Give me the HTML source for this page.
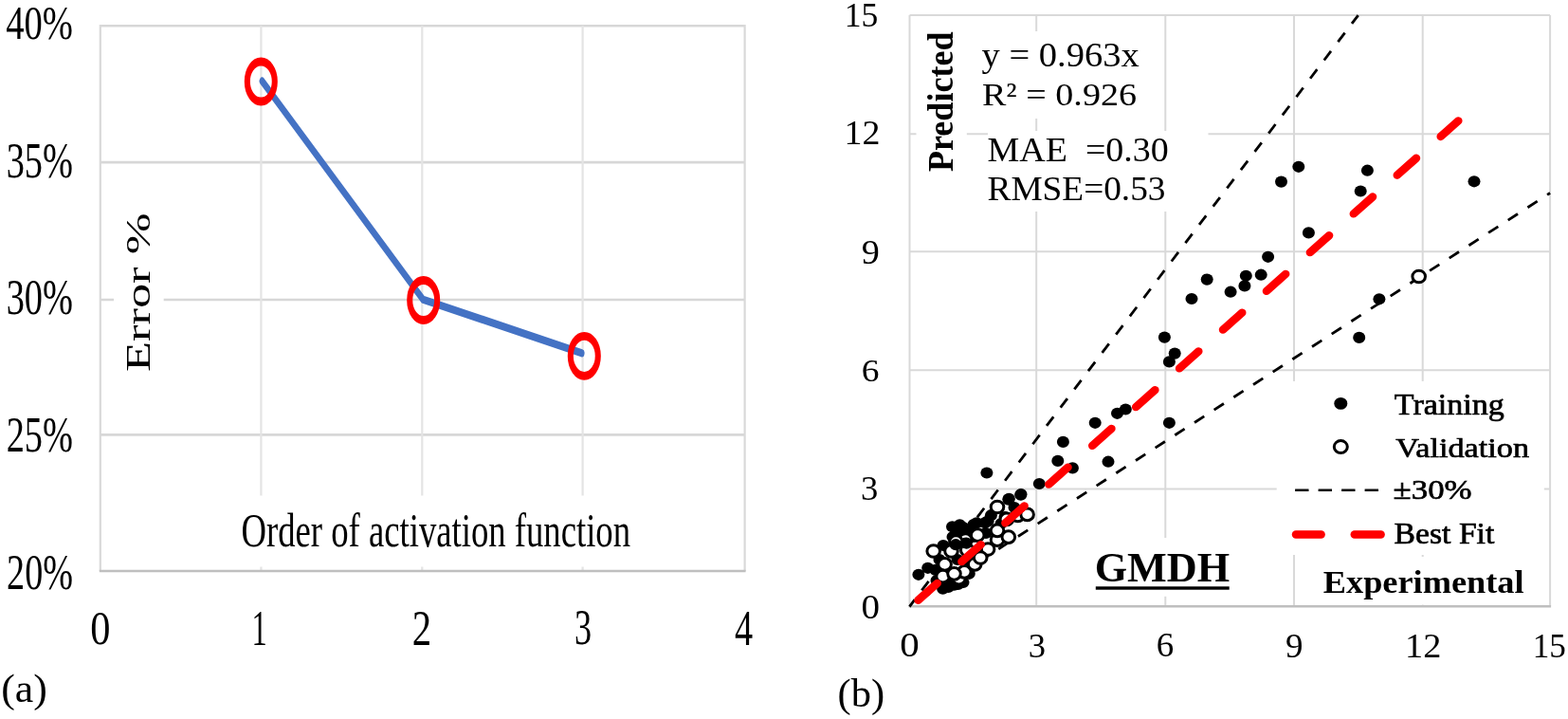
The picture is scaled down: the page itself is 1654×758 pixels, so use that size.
<!DOCTYPE html>
<html><head><meta charset="utf-8"><title>Figure</title>
<style>html,body{margin:0;padding:0;background:#fff;width:1654px;height:758px;overflow:hidden}svg{display:block}</style>
</head><body>
<svg width="1654" height="758" viewBox="0 0 1654 758">
<rect width="1654" height="758" fill="#fff"/>
<line x1="105.8" y1="27.2" x2="785.6" y2="27.2" stroke="#d7d7d7" stroke-width="2.6" />
<line x1="105.8" y1="171.1" x2="785.6" y2="171.1" stroke="#d7d7d7" stroke-width="2.6" />
<line x1="105.8" y1="316.0" x2="785.6" y2="316.0" stroke="#d7d7d7" stroke-width="2.6" />
<line x1="105.8" y1="458.4" x2="785.6" y2="458.4" stroke="#d7d7d7" stroke-width="2.6" />
<line x1="275.4" y1="27.2" x2="275.4" y2="602.0" stroke="#e4e4e4" stroke-width="2.2" />
<line x1="445.3" y1="27.2" x2="445.3" y2="602.0" stroke="#e4e4e4" stroke-width="2.2" />
<line x1="614.6" y1="27.2" x2="614.6" y2="602.0" stroke="#e4e4e4" stroke-width="2.2" />
<line x1="105.8" y1="25.9" x2="105.8" y2="602.0" stroke="#d9d9d9" stroke-width="2.2" />
<line x1="785.6" y1="25.9" x2="785.6" y2="602.0" stroke="#d9d9d9" stroke-width="2.2" />
<line x1="104.8" y1="602.0" x2="786.6" y2="602.0" stroke="#bfbfbf" stroke-width="2.4" />
<rect x="120" y="222" width="52.70" height="173.00" fill="#fff"/>
<rect x="250" y="522.5" width="420.00" height="75.00" fill="#fff"/>
<g transform="scale(0.690,1)"><polyline points="400.72,85.50 646.67,315.70 889.42,372.30" fill="none" stroke="#4472C4" stroke-width="8.3" stroke-linejoin="round" stroke-linecap="round"/></g>
<circle r="21" fill="none" stroke="#ff0000" stroke-width="8.8" transform="translate(275.3,86.0) scale(0.69,1)"/>
<circle r="21" fill="none" stroke="#ff0000" stroke-width="8.8" transform="translate(446.7,316.5) scale(0.69,1)"/>
<circle r="21" fill="none" stroke="#ff0000" stroke-width="8.8" transform="translate(616.3,375.3) scale(0.69,1)"/>
<line x1="959.5" y1="16.1" x2="1635.1" y2="16.1" stroke="#d9d9d9" stroke-width="2.0" />
<line x1="959.5" y1="141.3" x2="1635.1" y2="141.3" stroke="#d9d9d9" stroke-width="2.0" />
<line x1="959.5" y1="265.3" x2="1635.1" y2="265.3" stroke="#d9d9d9" stroke-width="2.0" />
<line x1="959.5" y1="390.2" x2="1635.1" y2="390.2" stroke="#d9d9d9" stroke-width="2.0" />
<line x1="959.5" y1="515.6" x2="1635.1" y2="515.6" stroke="#d9d9d9" stroke-width="2.0" />
<line x1="959.5" y1="16.1" x2="959.5" y2="639.3" stroke="#d9d9d9" stroke-width="2.0" />
<line x1="1093.2" y1="16.1" x2="1093.2" y2="639.3" stroke="#d9d9d9" stroke-width="2.0" />
<line x1="1229.3" y1="16.1" x2="1229.3" y2="639.3" stroke="#d9d9d9" stroke-width="2.0" />
<line x1="1365.0" y1="16.1" x2="1365.0" y2="639.3" stroke="#d9d9d9" stroke-width="2.0" />
<line x1="1500.7" y1="16.1" x2="1500.7" y2="639.3" stroke="#d9d9d9" stroke-width="2.0" />
<line x1="1635.1" y1="16.1" x2="1635.1" y2="639.3" stroke="#d9d9d9" stroke-width="2.0" />
<line x1="958.5" y1="639.3" x2="1636.1" y2="639.3" stroke="#bfbfbf" stroke-width="2.4" />
<rect x="966.5" y="30" width="53.30" height="160.00" fill="#fff"/>
<rect x="1025" y="33" width="190.00" height="92.00" fill="#fff"/>
<rect x="1042" y="138" width="232.50" height="85.00" fill="#fff"/>
<rect x="1346.7" y="401.9" width="282.10" height="183.10" fill="#fff"/>
<rect x="1150" y="567" width="150.00" height="61.80" fill="#fff"/>
<rect x="1390" y="587" width="230.00" height="50.50" fill="#fff"/>
<line x1="959.5" y1="639.3" x2="1432.7" y2="16.1" stroke="#000" stroke-width="2.8" stroke-dasharray="12 12.2" stroke-dashoffset="3.0"/>
<line x1="959.5" y1="639.3" x2="1635.1" y2="203.5" stroke="#000" stroke-width="2.8" stroke-dasharray="12.2 12.4" stroke-dashoffset="11.4"/>
<ellipse cx="1369.8" cy="175.8" rx="6.5" ry="6.1" fill="#000"/>
<ellipse cx="1351.5" cy="191.6" rx="6.5" ry="6.1" fill="#000"/>
<ellipse cx="1380.4" cy="245.4" rx="6.5" ry="6.1" fill="#000"/>
<ellipse cx="1337.6" cy="270.8" rx="6.5" ry="6.1" fill="#000"/>
<ellipse cx="1330.2" cy="289.7" rx="6.5" ry="6.1" fill="#000"/>
<ellipse cx="1314.3" cy="290.8" rx="6.5" ry="6.1" fill="#000"/>
<ellipse cx="1312.9" cy="301.4" rx="6.5" ry="6.1" fill="#000"/>
<ellipse cx="1298.1" cy="307.7" rx="6.5" ry="6.1" fill="#000"/>
<ellipse cx="1273.2" cy="294.6" rx="6.5" ry="6.1" fill="#000"/>
<ellipse cx="1257" cy="315" rx="6.5" ry="6.1" fill="#000"/>
<ellipse cx="1442.4" cy="179.7" rx="6.5" ry="6.1" fill="#000"/>
<ellipse cx="1435.2" cy="201.5" rx="6.5" ry="6.1" fill="#000"/>
<ellipse cx="1555" cy="191.3" rx="6.5" ry="6.1" fill="#000"/>
<ellipse cx="1454.9" cy="315.3" rx="6.5" ry="6.1" fill="#000"/>
<ellipse cx="1433.7" cy="355.9" rx="6.5" ry="6.1" fill="#000"/>
<ellipse cx="1228.4" cy="355.6" rx="6.5" ry="6.1" fill="#000"/>
<ellipse cx="1239.2" cy="372.6" rx="6.5" ry="6.1" fill="#000"/>
<ellipse cx="1233.4" cy="381.4" rx="6.5" ry="6.1" fill="#000"/>
<ellipse cx="1233.4" cy="445.8" rx="6.5" ry="6.1" fill="#000"/>
<ellipse cx="1155.2" cy="445.8" rx="6.5" ry="6.1" fill="#000"/>
<ellipse cx="1178.5" cy="435.8" rx="6.5" ry="6.1" fill="#000"/>
<ellipse cx="1187.3" cy="431.5" rx="6.5" ry="6.1" fill="#000"/>
<ellipse cx="1121.4" cy="465.9" rx="6.5" ry="6.1" fill="#000"/>
<ellipse cx="1115.8" cy="485.9" rx="6.5" ry="6.1" fill="#000"/>
<ellipse cx="1131.4" cy="493.4" rx="6.5" ry="6.1" fill="#000"/>
<ellipse cx="1169" cy="486.7" rx="6.5" ry="6.1" fill="#000"/>
<ellipse cx="1096.3" cy="510" rx="6.5" ry="6.1" fill="#000"/>
<ellipse cx="1040.9" cy="498.5" rx="6.5" ry="6.1" fill="#000"/>
<ellipse cx="1077.0" cy="521.1" rx="6.5" ry="6.1" fill="#000"/>
<ellipse cx="1064.3" cy="525.9" rx="6.5" ry="6.1" fill="#000"/>
<ellipse cx="968.9" cy="605.8" rx="6.5" ry="6.1" fill="#000"/>
<ellipse cx="978.7" cy="598.8" rx="6.5" ry="6.1" fill="#000"/>
<ellipse cx="986.9" cy="600.9" rx="6.5" ry="6.1" fill="#000"/>
<ellipse cx="994.6" cy="620.6" rx="6.5" ry="6.1" fill="#000"/>
<ellipse cx="1000.4" cy="619.0" rx="6.5" ry="6.1" fill="#000"/>
<ellipse cx="1006.5" cy="616.7" rx="6.5" ry="6.1" fill="#000"/>
<ellipse cx="1010.7" cy="615.9" rx="6.5" ry="6.1" fill="#000"/>
<ellipse cx="1004.5" cy="555.3" rx="6.5" ry="6.1" fill="#000"/>
<ellipse cx="1012.4" cy="553.3" rx="6.5" ry="6.1" fill="#000"/>
<ellipse cx="1009.0" cy="561.4" rx="6.5" ry="6.1" fill="#000"/>
<ellipse cx="1016" cy="556" rx="6.5" ry="6.1" fill="#000"/>
<ellipse cx="1023.3" cy="558.3" rx="6.5" ry="6.1" fill="#000"/>
<ellipse cx="1030.2" cy="551.3" rx="6.5" ry="6.1" fill="#000"/>
<ellipse cx="1027" cy="553" rx="6.5" ry="6.1" fill="#000"/>
<ellipse cx="1039.1" cy="551.1" rx="6.5" ry="6.1" fill="#000"/>
<ellipse cx="1042.1" cy="549.4" rx="6.5" ry="6.1" fill="#000"/>
<ellipse cx="1045.4" cy="543.2" rx="6.5" ry="6.1" fill="#000"/>
<ellipse cx="1056" cy="552" rx="6.5" ry="6.1" fill="#000"/>
<ellipse cx="1060" cy="545" rx="6.5" ry="6.1" fill="#000"/>
<ellipse cx="1063.8" cy="526.6" rx="6.5" ry="6.1" fill="#000"/>
<ellipse cx="1076.7" cy="521.7" rx="6.5" ry="6.1" fill="#000"/>
<ellipse cx="1070" cy="535" rx="6.5" ry="6.1" fill="#000"/>
<ellipse cx="1005" cy="566" rx="6.5" ry="6.1" fill="#000"/>
<ellipse cx="1014" cy="566" rx="6.5" ry="6.1" fill="#000"/>
<ellipse cx="1026" cy="566" rx="6.5" ry="6.1" fill="#000"/>
<ellipse cx="1040" cy="562" rx="6.5" ry="6.1" fill="#000"/>
<ellipse cx="1022.3" cy="604.8" rx="6.5" ry="6.1" fill="#000"/>
<ellipse cx="1016" cy="614" rx="6.5" ry="6.1" fill="#000"/>
<ellipse cx="991" cy="590" rx="6.5" ry="6.1" fill="#000"/>
<ellipse cx="995" cy="575" rx="6.5" ry="6.1" fill="#000"/>
<ellipse cx="988" cy="612" rx="6.5" ry="6.1" fill="#000"/>
<ellipse cx="1006" cy="612" rx="6.5" ry="6.1" fill="#000"/>
<ellipse cx="1020" cy="590" rx="6.5" ry="6.1" fill="#000"/>
<ellipse cx="1010" cy="590" rx="6.5" ry="6.1" fill="#000"/>
<ellipse cx="1496.7" cy="291.5" rx="6.8" ry="6.35" fill="#fff" stroke="#000" stroke-width="3"/>
<ellipse cx="1018.3" cy="569.2" rx="6.8" ry="6.35" fill="#fff" stroke="#000" stroke-width="3"/>
<ellipse cx="1008.4" cy="571.1" rx="6.8" ry="6.35" fill="#fff" stroke="#000" stroke-width="3"/>
<ellipse cx="1061.9" cy="547.4" rx="6.8" ry="6.35" fill="#fff" stroke="#000" stroke-width="3"/>
<ellipse cx="1073.7" cy="543.4" rx="6.8" ry="6.35" fill="#fff" stroke="#000" stroke-width="3"/>
<ellipse cx="1011.5" cy="609.6" rx="6.8" ry="6.35" fill="#fff" stroke="#000" stroke-width="3"/>
<ellipse cx="1017.3" cy="602.8" rx="6.8" ry="6.35" fill="#fff" stroke="#000" stroke-width="3"/>
<ellipse cx="984.7" cy="581.0" rx="6.8" ry="6.35" fill="#fff" stroke="#000" stroke-width="3"/>
<ellipse cx="1003.5" cy="581.0" rx="6.8" ry="6.35" fill="#fff" stroke="#000" stroke-width="3"/>
<ellipse cx="1020.3" cy="580.0" rx="6.8" ry="6.35" fill="#fff" stroke="#000" stroke-width="3"/>
<ellipse cx="1031.2" cy="564.2" rx="6.8" ry="6.35" fill="#fff" stroke="#000" stroke-width="3"/>
<ellipse cx="1052.0" cy="534.5" rx="6.8" ry="6.35" fill="#fff" stroke="#000" stroke-width="3"/>
<ellipse cx="996.6" cy="594.9" rx="6.8" ry="6.35" fill="#fff" stroke="#000" stroke-width="3"/>
<ellipse cx="1028.2" cy="594.9" rx="6.8" ry="6.35" fill="#fff" stroke="#000" stroke-width="3"/>
<ellipse cx="1042.1" cy="579.0" rx="6.8" ry="6.35" fill="#fff" stroke="#000" stroke-width="3"/>
<ellipse cx="1052.0" cy="569.2" rx="6.8" ry="6.35" fill="#fff" stroke="#000" stroke-width="3"/>
<ellipse cx="1063.8" cy="566.2" rx="6.8" ry="6.35" fill="#fff" stroke="#000" stroke-width="3"/>
<ellipse cx="994.6" cy="607.7" rx="6.8" ry="6.35" fill="#fff" stroke="#000" stroke-width="3"/>
<ellipse cx="1006.5" cy="604.8" rx="6.8" ry="6.35" fill="#fff" stroke="#000" stroke-width="3"/>
<ellipse cx="1034.2" cy="588.0" rx="6.8" ry="6.35" fill="#fff" stroke="#000" stroke-width="3"/>
<ellipse cx="1083.6" cy="542.4" rx="6.8" ry="6.35" fill="#fff" stroke="#000" stroke-width="3"/>
<ellipse cx="1052.0" cy="559.3" rx="6.8" ry="6.35" fill="#fff" stroke="#000" stroke-width="3"/>
<ellipse cx="1008.2" cy="574.2" rx="6.5" ry="6.1" fill="#000"/>
<ellipse cx="1019.3" cy="572.6" rx="6.5" ry="6.1" fill="#000"/>
<line x1="968.5" y1="632.8" x2="1538.3" y2="127.4" stroke="#ff0000" stroke-width="8.5" stroke-linecap="round" stroke-dasharray="27 34.4"/>
<ellipse cx="1414.3" cy="425.4" rx="7.0" ry="6.4" fill="#000"/>
<ellipse cx="1414.3" cy="471.1" rx="7.0" ry="6.5" fill="#fff" stroke="#000" stroke-width="3"/>
<line x1="1366.1" y1="516.7" x2="1456" y2="516.7" stroke="#000" stroke-width="2.6" stroke-dasharray="14.4 10.1"/>
<line x1="1367" y1="563.6" x2="1393.6" y2="563.6" stroke="#ff0000" stroke-width="8.5" stroke-linecap="round"/>
<line x1="1428.8" y1="563.6" x2="1456.6" y2="563.6" stroke="#ff0000" stroke-width="8.5" stroke-linecap="round"/>
<rect x="1155.8" y="618.3" width="140.90" height="3.40" fill="#000"/>
<g font-family="'Liberation Serif', 'Times New Roman', serif" font-size="100" fill="#000" style="white-space:pre">
<text transform="translate(6.23,41.49) scale(0.3860,0.5060)">40%</text>
<text transform="translate(6.68,331.06) scale(0.3834,0.5179)">30%</text>
<text transform="translate(6.68,186.51) scale(0.3834,0.5179)">35%</text>
<text transform="translate(6.68,475.71) scale(0.3834,0.5179)">25%</text>
<text transform="translate(7.07,620.55) scale(0.3813,0.5239)">20%</text>
<text transform="translate(95.30,678.77) scale(0.4238,0.5164)">0</text>
<text transform="translate(774.93,679.80) scale(0.3826,0.5262)">4</text>
<text transform="translate(265.57,679.80) scale(0.3257,0.5182)">1</text>
<text transform="translate(434.67,679.80) scale(0.4075,0.5262)">2</text>
<text transform="translate(606.00,679.47) scale(0.3610,0.5258)">3</text>
<text transform="translate(158.19,392.07) scale(0.3567,0.5246) rotate(-90)">Error %</text>
<text transform="translate(254.53,575.99) scale(0.3669,0.5027)">Order of activation function</text>
<text transform="translate(1.25,739.95) scale(0.4379,0.4311)">(a)</text>
<text transform="translate(890.80,27.85) scale(0.3552,0.3500)">15</text>
<text transform="translate(890.59,151.90) scale(0.3788,0.3515)">12</text>
<text transform="translate(908.80,401.72) scale(0.3744,0.3418)">6</text>
<text transform="translate(908.44,651.50) scale(0.3905,0.3507)">0</text>
<text transform="translate(908.86,277.64) scale(0.3814,0.3636)">9</text>
<text transform="translate(907.97,526.83) scale(0.3659,0.3682)">3</text>
<text transform="translate(949.16,692.30) scale(0.4095,0.3507)">0</text>
<text transform="translate(1616.63,692.65) scale(0.3517,0.3507)">15</text>
<text transform="translate(1084.77,692.84) scale(0.3659,0.3636)">3</text>
<text transform="translate(1219.82,692.48) scale(0.3698,0.3582)">6</text>
<text transform="translate(1355.99,692.84) scale(0.3698,0.3591)">9</text>
<text transform="translate(1482.06,693.20) scale(0.3824,0.3591)">12</text>
<text transform="translate(1005.33,181.12) scale(0.3729,0.3613) rotate(-90)" font-weight="bold">Predicted</text>
<text transform="translate(1035.51,70.08) scale(0.3855,0.3535)">y = 0.963x</text>
<text transform="translate(1035.96,110.71) scale(0.3810,0.3471)">R² = 0.926</text>
<text transform="translate(1041.46,170.20) scale(0.3801,0.3515)">MAE  =0.30</text>
<text transform="translate(1041.48,211.17) scale(0.3734,0.3642)">RMSE=0.53</text>
<text transform="translate(1470.82,436.78) scale(0.3404,0.3058)" stroke="#000" stroke-width="2.2">Training</text>
<text transform="translate(1472.36,482.43) scale(0.3424,0.2873)" stroke="#000" stroke-width="2.2">Validation</text>
<text transform="translate(1469.61,525.72) scale(0.3485,0.2896)" stroke="#000" stroke-width="2.2">±30%</text>
<text transform="translate(1470.59,572.59) scale(0.3368,0.3076)" stroke="#000" stroke-width="2.2">Best Fit</text>
<text transform="translate(1154.69,612.56) scale(0.4424,0.4379)" font-weight="bold">GMDH</text>
<text transform="translate(1395.77,624.74) scale(0.3633,0.3411)" font-weight="bold">Experimental</text>
<text transform="translate(883.60,744.99) scale(0.4250,0.4244)">(b)</text>
</g>
</svg>
</body></html>
